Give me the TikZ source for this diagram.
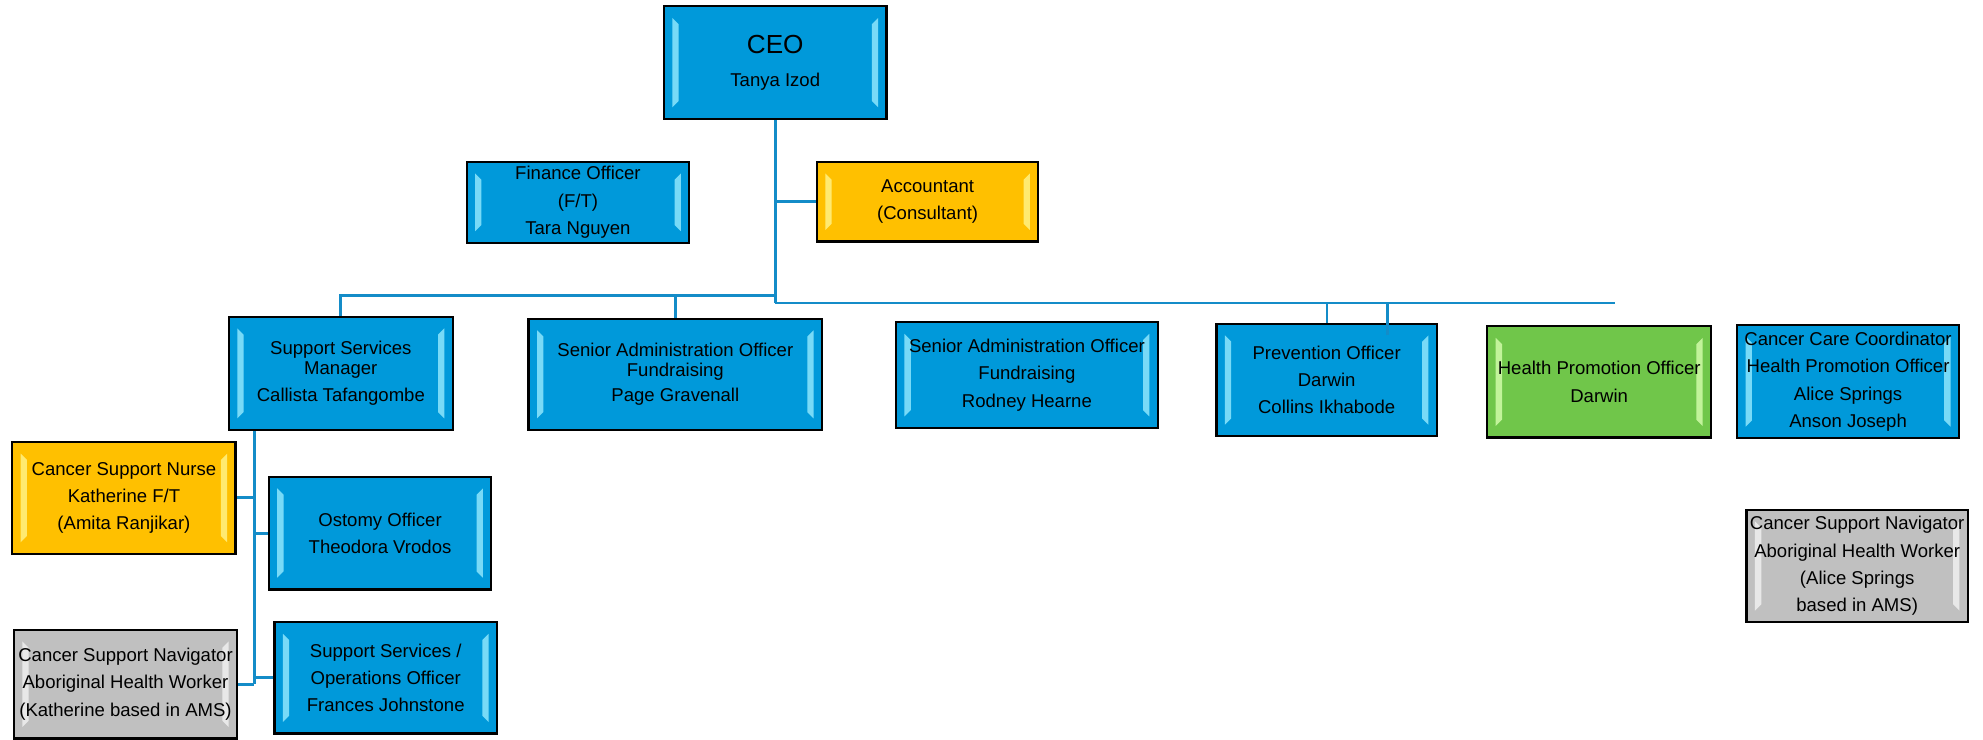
\documentclass[tikz,border=0pt]{standalone}
\usepackage{fontspec}
\setmainfont{Liberation Sans}
\usepackage{xcolor}
\usepackage{tikz}
\usetikzlibrary{calc}

\definecolor{postblue}{RGB}{0,153,218}
\definecolor{shineblue}{RGB}{150,235,255}
\definecolor{postyellow}{RGB}{255,192,0}
\definecolor{shineyellow}{RGB}{255,245,140}
\definecolor{postgreen}{RGB}{112,198,74}
\definecolor{shinegreen}{RGB}{215,255,175}
\definecolor{postgray}{RGB}{192,192,192}
\definecolor{shinegray}{RGB}{242,242,242}
\definecolor{linkblue}{RGB}{20,140,200}

\newcommand{\postfont}{\fontsize{8.8}{12.9}\selectfont}
\newcommand{\ceofont}{\fontsize{12.4}{12.9}\selectfont}

\tikzset{
    bevel/.style={path picture={
        \fill[#1, fill opacity=0.8] ($(path picture bounding box.north west)+(4pt,-5.5pt)$) -- ++(3pt,-3pt)
            -- ($(path picture bounding box.south west)+(7pt,8.5pt)$) -- ++(-3pt,-3pt) -- cycle;
        \fill[#1, fill opacity=0.8] ($(path picture bounding box.north east)+(-4pt,-5.5pt)$) -- ++(-3pt,-3pt)
            -- ($(path picture bounding box.south east)+(-7pt,8.5pt)$) -- ++(3pt,-3pt) -- cycle;
    }},
    post/.style={draw=black, line width=1.1pt, inner sep=0pt, align=center, font=\postfont},
    bluepost/.style={post, fill=postblue, bevel=shineblue},
    yellowpost/.style={post, fill=postyellow, bevel=shineyellow},
    greenpost/.style={post, fill=postgreen, bevel=shinegreen},
    graypost/.style={post, fill=postgray, bevel=shinegray},
    link/.style={draw=linkblue, line width=1.4pt},
    thinlink/.style={draw=linkblue, line width=0.9pt}
}

\begin{document}
\begin{tikzpicture}[x=0.6pt, y=-0.6pt]

    \path[use as bounding box, fill=white] (0,0) rectangle (1568,585);

    \node[bluepost, minimum width=105.6pt, minimum height=53.4pt] (ceo) at (613,49.5) {{\ceofont CEO}\\[2.6pt]Tanya Izod};
    \node[bluepost, minimum width=105.6pt, minimum height=38.4pt] (finance) at (457,160) {Finance Officer\\(F/T)\\Tara Nguyen};
    \node[yellowpost, minimum width=105pt, minimum height=37.8pt] (acct) at (733.5,159.5) {Accountant\\(Consultant)};

    \node[bluepost, minimum width=106.2pt, minimum height=53.7pt] (ssm) at (269.5,295.25) {Support Services\\[-3.5pt]Manager\\Callista Tafangombe};
    \node[bluepost, minimum width=139.2pt, minimum height=52.8pt] (page) at (534,296) {Senior Administration Officer\\[-3.3pt]Fundraising\\[-0.9pt]Page Gravenall};
    \node[bluepost, minimum width=124.2pt, minimum height=50.2pt] (rodney) at (812,296.6) {Senior Administration Officer\\Fundraising\\Rodney Hearne};
    \node[bluepost, minimum width=104.6pt, minimum height=53.4pt] (prev) at (1049,300.5) {Prevention Officer\\Darwin\\Collins Ikhabode};
    \node[greenpost, minimum width=106.2pt, minimum height=52.8pt] (hpo) at (1264.5,302) {Health Promotion Officer\\Darwin};
    \node[bluepost, minimum width=105.2pt, minimum height=53.7pt] (ccc) at (1461.3,301.75) {Cancer Care Coordinator\\Health Promotion Officer\\Alice Springs\\Anson Joseph};
    \node[graypost, minimum width=105pt, minimum height=53.4pt] (navas) at (1468.5,447.5) {Cancer Support Navigator\\Aboriginal Health Worker\\(Alice Springs\\based in AMS)};

    \node[yellowpost, minimum width=106pt, minimum height=53.1pt] (nurse) at (98,393.75) {Cancer Support Nurse\\Katherine F/T\\(Amita Ranjikar)};
    \node[bluepost, minimum width=105.6pt, minimum height=53.4pt] (ostomy) at (300.5,421.5) {Ostomy Officer\\Theodora Vrodos};
    \node[bluepost, minimum width=105.6pt, minimum height=52.8pt] (ops) at (305,536) {Support Services /\\Operations Officer\\Frances Johnstone};
    \node[graypost, minimum width=105.9pt, minimum height=51.6pt] (navkath) at (99.25,541) {Cancer Support Navigator\\Aboriginal Health Worker\\(Katherine based in AMS)};

    \coordinate (hub) at (613,234);
    \coordinate (hubr) at (613,239.6);
    \coordinate (split) at (872,239.6);
    \coordinate (rend) at (1277,239.6);
    \coordinate (tick) at (1097,265);
    \coordinate (trunk) at (201,541);

    \draw[link] (ceo.south) -- (hubr);
    \draw[link] (acct.west) -- (acct.west -| ceo.south);
    \draw[link] (ssm.north) |- (hub);
    \draw[link] (page.north) -- (page.north |- hub);
    \draw[thinlink] (hubr) -- (split);
    \draw[link] (split) -- (rend);
    \draw[thinlink] (prev.north) -- (prev.north |- hubr);
    \draw[link] (tick) -- (tick |- hubr);

    \draw[link] (ssm.south -| trunk) -- (trunk);
    \draw[link] (nurse.east) -- (nurse.east -| trunk);
    \draw[link] (ostomy.west) -- (ostomy.west -| trunk);
    \draw[link] (ops.west) -- (ops.west -| trunk);
    \draw[link] (navkath.east) -- (trunk);

\end{tikzpicture}
\end{document}
